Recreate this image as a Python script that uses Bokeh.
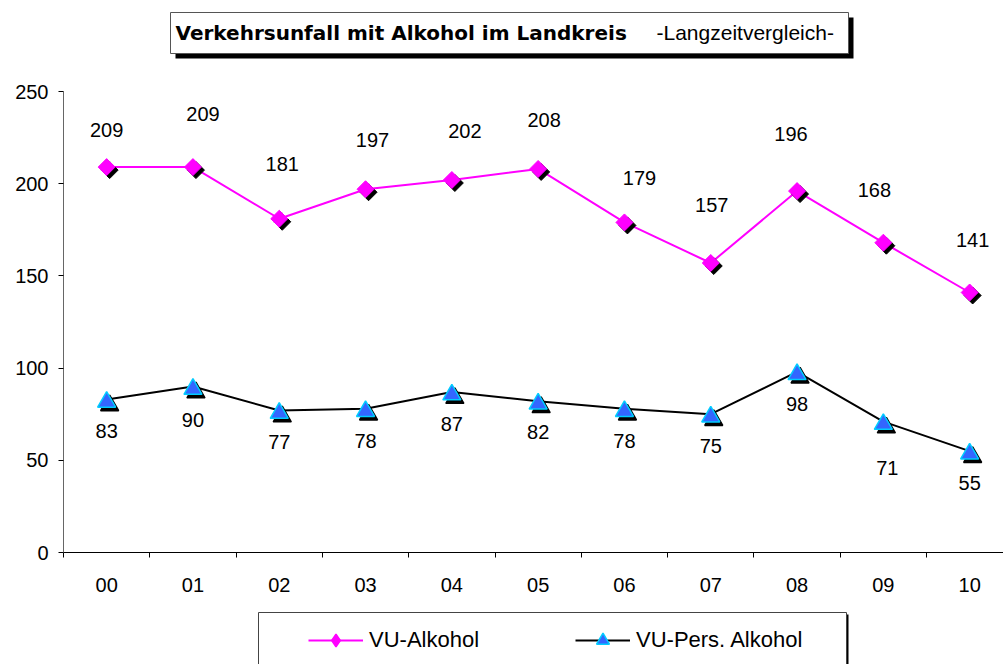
import numpy as np
from bokeh.plotting import figure
from bokeh.layouts import column
from bokeh.models import (Range1d, FixedTicker, ColumnDataSource, Legend, LegendItem)
from bokeh.transform import dodge
from bokeh.core.properties import value
from bokeh.embed import file_html
from bokeh.resources import INLINE

# ---------------- data ----------------
years = ["00", "01", "02", "03", "04", "05", "06", "07", "08", "09", "10"]
vu_alkohol = [209, 209, 181, 197, 202, 208, 179, 157, 196, 168, 141]
vu_pers_alkohol = [83, 90, 77, 78, 87, 82, 78, 75, 98, 71, 55]
y_ticks = [0, 50, 100, 150, 200, 250]
series_names = ["VU-Alkohol", "VU-Pers. Alkohol"]
title_main = "Verkehrsunfall mit Alkohol im Landkreis"
title_sub = "-Langzeitvergleich-"

# data-label placement (pixel offsets from the point)
lab_a_dx = [0, 10, 3, 7, 13, 6, 15, 1, -6, -9, 3]
lab_a_dy = [-37, -53, -55, -49, -49, -49, -44, -58, -57, -53, -52]
lab_b_dx = [0, 0, 0, 0, 0, 0, 0, 0, 0, 4, 0]
lab_b_dy = [32, 33, 31, 32, 32, 31, 32, 32, 32, 46, 32]

# ---------------- layout ----------------
W = 1003
H_TITLE, H_MAIN, H_LEG = 70, 530, 64
ML, MR, MT, MB = 63, 0, 21, 48
FW, FH = W - ML - MR, H_MAIN - MT - MB
PX_X = 86.3                      # pixels per category
X_END = -0.5 + FW / PX_X
PX_Y = FH / 250.0                # pixels per y unit
FONT = "Liberation Sans"
PINK = "#FF00FF"


def blank_fig(h):
    # frames in a column are aligned with the main chart's frame (x from ML to W)
    f = figure(width=W, height=h, x_range=Range1d(ML, W), y_range=Range1d(h, 0),
               output_backend="svg", toolbar_location=None, tools="",
               x_axis_location=None, y_axis_location=None,
               min_border_left=ML, min_border_right=0, min_border_top=0, min_border_bottom=0)
    f.outline_line_color = None
    for g in f.grid:
        g.visible = False
    f.background_fill_color = "white"
    f.border_fill_color = "white"
    return f


# ---------------- title ----------------
t = blank_fig(H_TITLE)
t.quad(left=[175], right=[853], top=[17], bottom=[58], fill_color="black", line_color=None)
t.quad(left=[170], right=[848], top=[12], bottom=[53], fill_color="white",
       line_color="#555555", line_width=1)
t.text(x=[175], y=[32], text=[title_main], text_font=value("DejaVu Sans"),
       text_font_style="bold", text_font_size="20px", text_baseline="middle",
       text_align="left", text_color="black")
t.text(x=[656], y=[32], text=[title_sub], text_font=value(FONT),
       text_font_size="21px", text_baseline="middle", text_align="left", text_color="black")

# ---------------- main chart ----------------
idx = list(range(len(years)))
src = ColumnDataSource(dict(
    x=idx, a=vu_alkohol, b=vu_pers_alkohol,
    la=[str(v) for v in vu_alkohol], lb=[str(v) for v in vu_pers_alkohol],
    dxa=lab_a_dx, dya=lab_a_dy, dxb=lab_b_dx, dyb=lab_b_dy,
))

p = figure(width=W, height=H_MAIN, x_range=Range1d(-0.5, X_END), y_range=Range1d(0, 250),
           output_backend="svg", toolbar_location=None, tools="",
           min_border_left=ML, min_border_right=MR, min_border_top=MT, min_border_bottom=MB)
p.outline_line_color = None
p.xgrid.visible = False
p.ygrid.visible = False
p.background_fill_color = "white"
p.border_fill_color = "white"

xa = p.xaxis[0]
xa.ticker = FixedTicker(ticks=idx, minor_ticks=[i - 0.5 for i in idx])
xa.major_label_overrides = {i: years[i] for i in idx}
xa.major_tick_out = 0
xa.major_tick_in = 0
xa.minor_tick_out = 5
xa.minor_tick_in = 0
xa.minor_tick_line_color = "black"
xa.axis_line_color = "black"
xa.major_label_standoff = 20
xa.major_label_text_font = FONT
xa.major_label_text_font_size = "20px"
xa.major_label_text_color = "black"

ya = p.yaxis[0]
ya.ticker = FixedTicker(ticks=y_ticks, minor_ticks=[])
ya.major_tick_out = 5
ya.major_tick_in = 0
ya.major_tick_line_color = "black"
ya.axis_line_color = "#666666"
ya.major_label_standoff = 10
ya.major_label_text_font = FONT
ya.major_label_text_font_size = "20px"
ya.major_label_text_color = "black"

p.line("x", "a", source=src, line_color=PINK, line_width=2)
p.line("x", "b", source=src, line_color="black", line_width=2)

p.scatter(x=dodge("x", 3 / PX_X, range=p.x_range), y=dodge("a", -3 / PX_Y, range=p.y_range),
          source=src, marker="square", size=12, angle=np.pi / 4,
          fill_color="black", line_color="black")
p.scatter("x", "a", source=src, marker="square", size=12, angle=np.pi / 4,
          fill_color=PINK, line_color=PINK)
p.scatter(x=dodge("x", 3 / PX_X, range=p.x_range), y=dodge("b", -6.1 / PX_Y, range=p.y_range),
          source=src, marker="triangle", size=18,
          fill_color="black", line_color="black", line_width=1.5)
p.scatter(x="x", y=dodge("b", -2.6 / PX_Y, range=p.y_range), source=src,
          marker="triangle", size=18,
          fill_color="#3366FF", line_color="#00CCFF", line_width=1.5)

p.text("x", "a", text="la", x_offset="dxa", y_offset="dya", source=src,
       text_font=value(FONT), text_font_size="20px", text_align="center",
       text_baseline="middle", text_color="black")
p.text("x", "b", text="lb", x_offset="dxb", y_offset="dyb", source=src,
       text_font=value(FONT), text_font_size="20px", text_align="center",
       text_baseline="middle", text_color="black")

# ---------------- legend ----------------
lg = blank_fig(H_LEG)
lg.quad(left=[260], right=[848], top=[14], bottom=[120], fill_color="black", line_color=None)
lg.quad(left=[258], right=[846], top=[12], bottom=[120], fill_color="white",
        line_color="#444444", line_width=1)
# legend proxies (placed outside the visible range; only their legend glyphs show)
hx, hy = [-1000, -999], [-1000, -1000]
pl1 = lg.line(x=hx, y=hy, line_color=PINK, line_width=2)
pm1 = lg.scatter(x=hx, y=hy, marker="diamond", fill_color=PINK, line_color=PINK, line_width=1.5)
pl2 = lg.line(x=hx, y=hy, line_color="black", line_width=2)
pm2 = lg.scatter(x=hx, y=hy, marker="triangle", fill_color="#3366FF",
                 line_color="#00CCFF", line_width=1.5)
legend = Legend(items=[LegendItem(label=series_names[0], renderers=[pl1, pm1]),
                       LegendItem(label=series_names[1], renderers=[pl2, pm2])],
                orientation="horizontal", location=(308 - ML, 8),
                glyph_width=55, glyph_height=32, label_standoff=6, label_width=206,
                spacing=0, padding=0, margin=0,
                border_line_color=None, background_fill_alpha=0,
                label_text_font=FONT, label_text_font_size="22px",
                label_text_color="black")
lg.add_layout(legend)

page = column(t, p, lg, spacing=0)
open("out.html", "w").write(file_html(page, INLINE))
